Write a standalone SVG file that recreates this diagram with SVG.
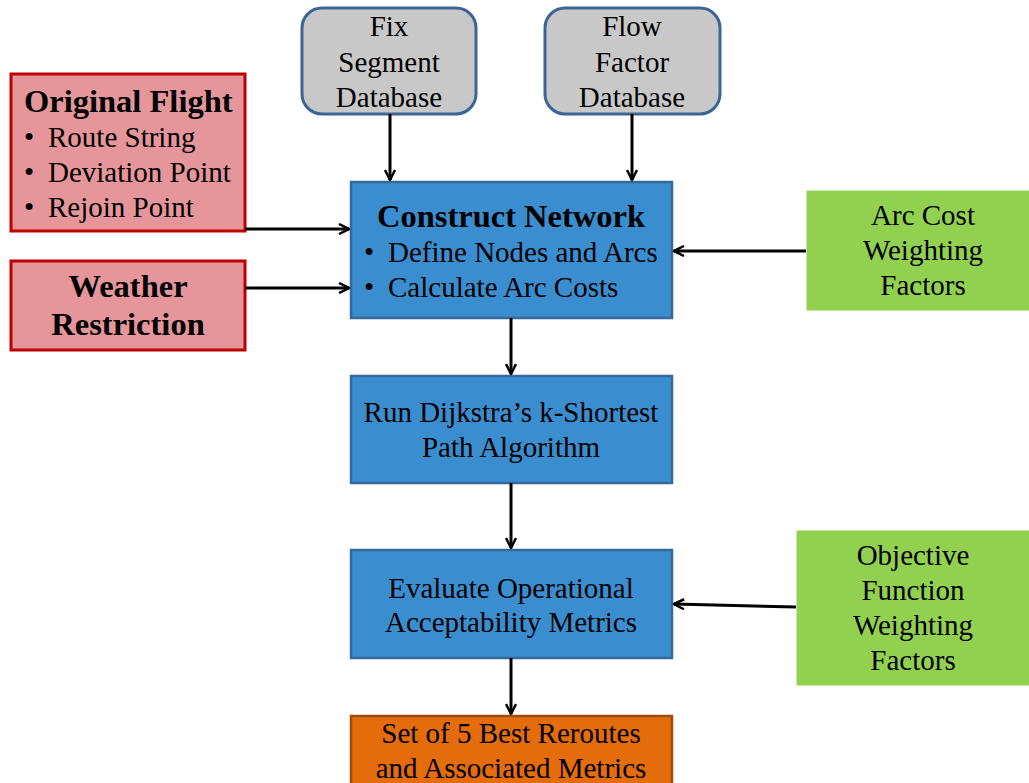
<svg xmlns="http://www.w3.org/2000/svg" width="1029" height="783" viewBox="0 0 1029 783">
<style>
text{font-family:"Liberation Serif","Times New Roman",serif;font-size:29px;fill:#000}
.b{font-weight:bold;font-size:32.5px}
.c{text-anchor:middle}
.red{fill:#e6969a;stroke:#c00000;stroke-width:3}
.gray{fill:#c8c8c8;stroke:#3c6494;stroke-width:3}
.blue{fill:#3a8ecf;stroke:#38679c;stroke-width:2.5}
.org{fill:#e46c0a;stroke:#a04b0e;stroke-width:2.5}
.grn{fill:#92d050;stroke:#ffffff;stroke-width:1}
.con{stroke:#000;stroke-width:3;fill:none;marker-end:url(#ah)}
</style>
<defs>
<marker id="ah" viewBox="0 0 12 12" refX="11" refY="6" markerWidth="12" markerHeight="12" markerUnits="userSpaceOnUse" orient="auto">
<path d="M1,1 L11,6 L1,11" fill="none" stroke="#000" stroke-width="2.5"/>
</marker>
</defs>
<g id="original-flight">
<rect class="red" x="11" y="74" width="234" height="157"/>
<text class="b" x="24" y="112">Original Flight</text>
<text x="24" y="147">•</text><text x="48" y="147">Route String</text>
<text x="24" y="182">•</text><text x="48" y="182">Deviation Point</text>
<text x="24" y="217">•</text><text x="48" y="217">Rejoin Point</text>
</g>
<g id="weather-restriction">
<rect class="red" x="11" y="261" width="234" height="89"/>
<text class="b c" x="128" y="297">Weather</text>
<text class="b c" x="128" y="335">Restriction</text>
</g>
<g id="fix-segment">
<rect class="gray" x="302" y="8" width="174" height="106" rx="20"/>
<text class="c" x="389" y="36">Fix</text>
<text class="c" x="389" y="72">Segment</text>
<text class="c" x="389" y="107">Database</text>
</g>
<g id="flow-factor">
<rect class="gray" x="545" y="8" width="175" height="106" rx="20"/>
<text class="c" x="632" y="36">Flow</text>
<text class="c" x="632" y="72">Factor</text>
<text class="c" x="632" y="107">Database</text>
</g>
<g id="construct-network">
<rect class="blue" x="351" y="182" width="321" height="136"/>
<text class="b c" x="511" y="227">Construct Network</text>
<text x="364" y="262">•</text><text x="388" y="262">Define Nodes and Arcs</text>
<text x="364" y="297">•</text><text x="388" y="297">Calculate Arc Costs</text>
</g>
<g id="arc-cost">
<rect class="grn" x="806" y="190" width="224" height="121"/>
<text class="c" x="923" y="225">Arc Cost</text>
<text class="c" x="923" y="260">Weighting</text>
<text class="c" x="923" y="295">Factors</text>
</g>
<g id="dijkstra">
<rect class="blue" x="351" y="376" width="321" height="107"/>
<text class="c" x="511" y="422">Run Dijkstra’s k-Shortest</text>
<text class="c" x="511" y="457">Path Algorithm</text>
</g>
<g id="evaluate">
<rect class="blue" x="351" y="550" width="321" height="108"/>
<text class="c" x="511" y="598">Evaluate Operational</text>
<text class="c" x="511" y="632">Acceptability Metrics</text>
</g>
<g id="objective">
<rect class="grn" x="796" y="530" width="234" height="156"/>
<text class="c" x="913" y="565">Objective</text>
<text class="c" x="913" y="600">Function</text>
<text class="c" x="913" y="635">Weighting</text>
<text class="c" x="913" y="670">Factors</text>
</g>
<g id="best-reroutes">
<rect class="org" x="351" y="716" width="321" height="80"/>
<text class="c" x="511" y="743">Set of 5 Best Reroutes</text>
<text class="c" x="511" y="778">and Associated Metrics</text>
</g>
<g id="connectors">
<line class="con" x1="245" y1="229" x2="349" y2="229"/>
<line class="con" x1="245" y1="288" x2="349" y2="288"/>
<line class="con" x1="390" y1="114" x2="390" y2="180"/>
<line class="con" x1="632" y1="114" x2="632" y2="180"/>
<line class="con" x1="806" y1="251" x2="674" y2="251"/>
<line class="con" x1="796" y1="607" x2="674" y2="604"/>
<line class="con" x1="511" y1="318" x2="511" y2="374"/>
<line class="con" x1="511" y1="483" x2="511" y2="548"/>
<line class="con" x1="511" y1="658" x2="511" y2="714"/>
</g>
</svg>
